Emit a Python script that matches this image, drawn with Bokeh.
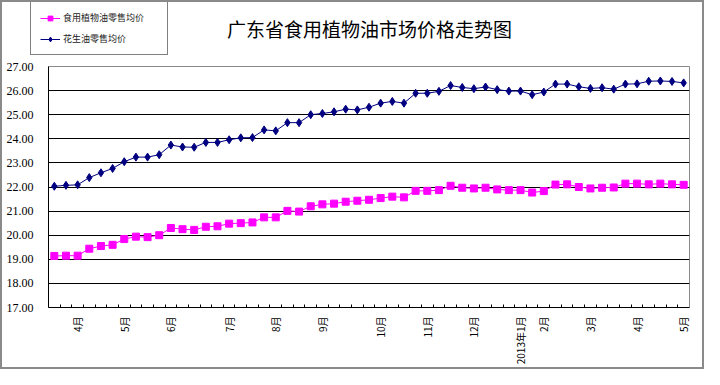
import math
from bokeh.plotting import figure
from bokeh.layouts import column
from bokeh.models import Range1d, FixedTicker, PrintfTickFormatter, Legend, LegendItem, Label
from bokeh.embed import file_html
from bokeh.resources import INLINE

title_text = "广东省食用植物油市场价格走势图"
series_names = ["食用植物油零售均价", "花生油零售均价"]

edible_oil = [19.14, 19.15, 19.15, 19.44, 19.55, 19.60, 19.84, 19.94, 19.92, 20.00,
              20.30, 20.25, 20.22, 20.35, 20.37, 20.48, 20.50, 20.53, 20.74, 20.74,
              21.01, 20.98, 21.20, 21.28, 21.31, 21.39, 21.43, 21.47, 21.54, 21.60,
              21.57, 21.84, 21.84, 21.87, 22.05, 21.97, 21.94, 21.97, 21.90, 21.87,
              21.87, 21.77, 21.83, 22.10, 22.11, 22.00, 21.94, 21.97, 21.98, 22.14,
              22.14, 22.11, 22.14, 22.11, 22.09]
peanut_oil = [22.03, 22.07, 22.09, 22.39, 22.59, 22.77, 23.05, 23.24, 23.24, 23.34,
              23.74, 23.66, 23.65, 23.85, 23.85, 23.96, 24.04, 24.05, 24.37, 24.33,
              24.67, 24.67, 25.00, 25.05, 25.12, 25.23, 25.20, 25.31, 25.48, 25.55,
              25.48, 25.89, 25.89, 25.97, 26.21, 26.13, 26.08, 26.15, 26.04, 25.98,
              25.98, 25.83, 25.94, 26.27, 26.27, 26.16, 26.09, 26.12, 26.06, 26.27,
              26.28, 26.39, 26.40, 26.38, 26.32]

month_label_index = [2, 6, 10, 15, 19, 23, 28, 32, 36, 40, 42, 46, 50, 54]
month_label_text = ["4月", "5月", "6月", "7月", "8月", "9月", "10月", "11月", "12月",
                    "2013年1月", "2月", "3月", "4月", "5月"]
y_ticks = list(range(17, 28))

n = len(peanut_oil)
x = list(range(n))

PINK = "#ff00ff"
NAVY = "#000080"
W = 700
HDR_H = 54

# ---------- header: title + legend ----------
hdr = figure(width=W, height=HDR_H, output_backend="svg", toolbar_location=None,
             x_range=Range1d(0, W), y_range=Range1d(0, HDR_H),
             min_border=0, x_axis_type=None, y_axis_type=None)
hdr.frame_align = False
hdr.grid.visible = False
hdr.outline_line_color = None
hdr.background_fill_color = "white"
hdr.border_fill_color = "white"

hl1 = hdr.line(x, edible_oil, line_color=PINK, line_width=1, visible=False)
hm1 = hdr.scatter(x, edible_oil, marker="square", size=7, fill_color=PINK, line_color=PINK, visible=False)
hl2 = hdr.line(x, peanut_oil, line_color=NAVY, line_width=1, visible=False)
hm2 = hdr.scatter(x, peanut_oil, marker="diamond", size=8, fill_color=NAVY, line_color=NAVY, visible=False)

legend = Legend(items=[LegendItem(label=series_names[0], renderers=[hl1, hm1]),
                       LegendItem(label=series_names[1], renderers=[hl2, hm2])],
                location=(28, 1), orientation="vertical")
legend.border_line_color = "black"
legend.border_line_width = 1
legend.background_fill_color = "white"
legend.background_fill_alpha = 1
legend.inactive_fill_alpha = 0
legend.label_text_font = "Noto Sans CJK SC"
legend.label_text_font_size = "9px"
legend.label_text_color = "#222222"
legend.glyph_width = 20
legend.glyph_height = 12
legend.label_height = 12
legend.label_width = 95
legend.label_standoff = 3
legend.spacing = 8
legend.padding = 9
legend.margin = 0
hdr.add_layout(legend, "center")

title = Label(x=367, y=28, text=title_text, text_align="center",
              text_baseline="middle", text_font="Noto Sans CJK SC",
              text_font_size="19px", text_color="black")
hdr.add_layout(title)

# ---------- main chart ----------
p = figure(width=W, height=365 - HDR_H, output_backend="svg", toolbar_location=None,
           x_range=Range1d(-0.5, n - 0.5), y_range=Range1d(17, 27),
           min_border_left=46, min_border_right=13, min_border_top=10, min_border_bottom=58)
p.frame_align = False
p.background_fill_color = "white"
p.border_fill_color = "white"
p.outline_line_color = "#8a8a8a"
p.outline_line_width = 1

p.yaxis.ticker = FixedTicker(ticks=y_ticks)
p.yaxis.formatter = PrintfTickFormatter(format="%.2f")
p.yaxis.major_tick_out = 0
p.yaxis.major_tick_in = 0
p.yaxis.minor_tick_out = 0
p.yaxis.minor_tick_in = 0
p.yaxis.major_label_standoff = 15
p.yaxis.major_label_text_font = "Liberation Serif"
p.yaxis.major_label_text_font_size = "12px"
p.yaxis.major_label_text_color = "black"
p.yaxis.axis_line_color = "black"

p.xaxis.ticker = FixedTicker(ticks=month_label_index,
                             minor_ticks=[i + 0.5 for i in range(n - 1)])
p.xaxis.major_label_overrides = {i: t for i, t in zip(month_label_index, month_label_text)}
p.xaxis.major_label_orientation = math.pi / 2
p.xaxis.major_tick_in = 0
p.xaxis.major_tick_out = 0
p.xaxis.minor_tick_in = 3
p.xaxis.minor_tick_out = 0
p.xaxis.minor_tick_line_color = "black"
p.xaxis.major_label_standoff = 9
p.xaxis.major_label_text_font = "Noto Sans CJK SC"
p.xaxis.major_label_text_font_size = "10px"
p.xaxis.major_label_text_color = "black"
p.xaxis.axis_line_color = "black"

p.xgrid.visible = False
p.ygrid.grid_line_color = "black"
p.ygrid.grid_line_width = 1

p.line(x, edible_oil, line_color=PINK, line_width=1)
p.scatter(x, edible_oil, marker="square", size=7, fill_color=PINK, line_color=PINK)
p.line(x, peanut_oil, line_color=NAVY, line_width=1)
p.scatter(x, peanut_oil, marker="diamond", size=8, fill_color=NAVY, line_color=NAVY)

layout = column(hdr, p, spacing=0, styles={"border": "2px solid #8a8a8a"})

open("out.html", "w").write(file_html(layout, INLINE))
